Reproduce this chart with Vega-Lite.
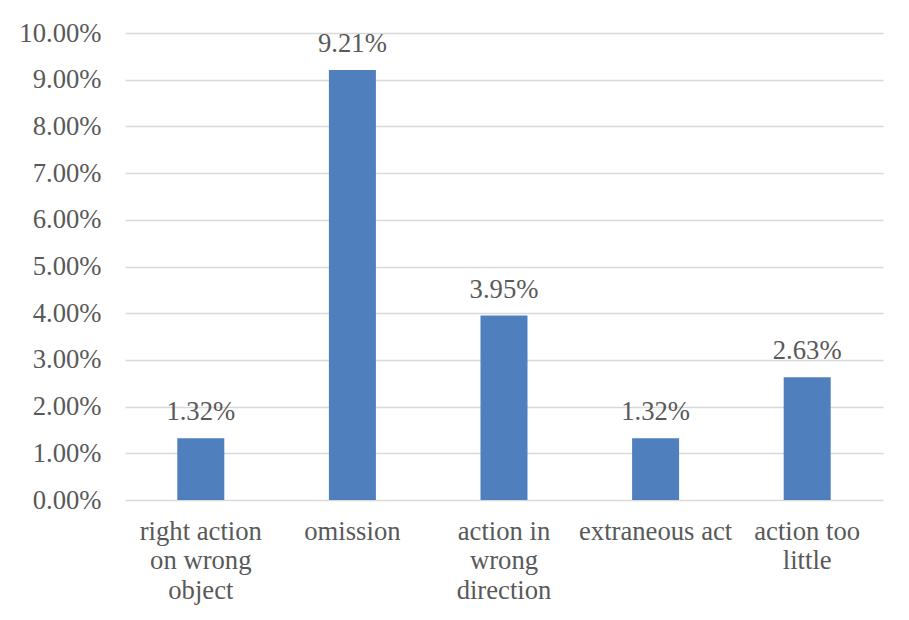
{
  "$schema": "https://vega.github.io/schema/vega-lite/v6.json",
  "autosize": "none",
  "width": 758,
  "height": 467,
  "padding": {"left": 125, "top": 33, "right": 26, "bottom": 120},
  "background": "#ffffff",
  "config": {
    "view": {"stroke": null},
    "font": "Liberation Serif"
  },
  "data": {
    "values": [
      {"error": "right action\non wrong\nobject", "share": 0.0132},
      {"error": "omission", "share": 0.0921},
      {"error": "action in\nwrong\ndirection", "share": 0.0395},
      {"error": "extraneous act", "share": 0.0132},
      {"error": "action too\nlittle", "share": 0.0263}
    ]
  },
  "encoding": {
    "x": {
      "field": "error",
      "type": "nominal",
      "sort": null,
      "scale": {"paddingInner": 0.69, "paddingOuter": 0.345},
      "axis": {
        "title": null,
        "labelAngle": 0,
        "labelExpr": "split(datum.label, '\\n')",
        "labelFont": "Liberation Serif",
        "labelFontSize": 26.67,
        "labelColor": "#595959",
        "labelLineHeight": 29.5,
        "labelPadding": 18,
        "labelLimit": 0,
        "domain": false,
        "ticks": false,
        "grid": false
      }
    },
    "y": {
      "field": "share",
      "type": "quantitative",
      "scale": {"domain": [0, 0.1], "nice": false},
      "axis": {
        "title": null,
        "values": [0, 0.01, 0.02, 0.03, 0.04, 0.05, 0.06, 0.07, 0.08, 0.09, 0.1],
        "format": ".2%",
        "labelFont": "Liberation Serif",
        "labelFontSize": 26.67,
        "labelColor": "#595959",
        "labelPadding": 24,
        "domain": false,
        "ticks": false,
        "grid": true,
        "gridColor": "#d9d9d9",
        "gridWidth": 1.3
      }
    }
  },
  "layer": [
    {
      "mark": {"type": "bar", "color": "#4f7fbc"}
    },
    {
      "mark": {
        "type": "text",
        "baseline": "alphabetic",
        "dy": -18,
        "font": "Liberation Serif",
        "fontSize": 26.67,
        "color": "#595959"
      },
      "encoding": {
        "text": {"field": "share", "type": "quantitative", "format": ".2%"}
      }
    }
  ]
}
